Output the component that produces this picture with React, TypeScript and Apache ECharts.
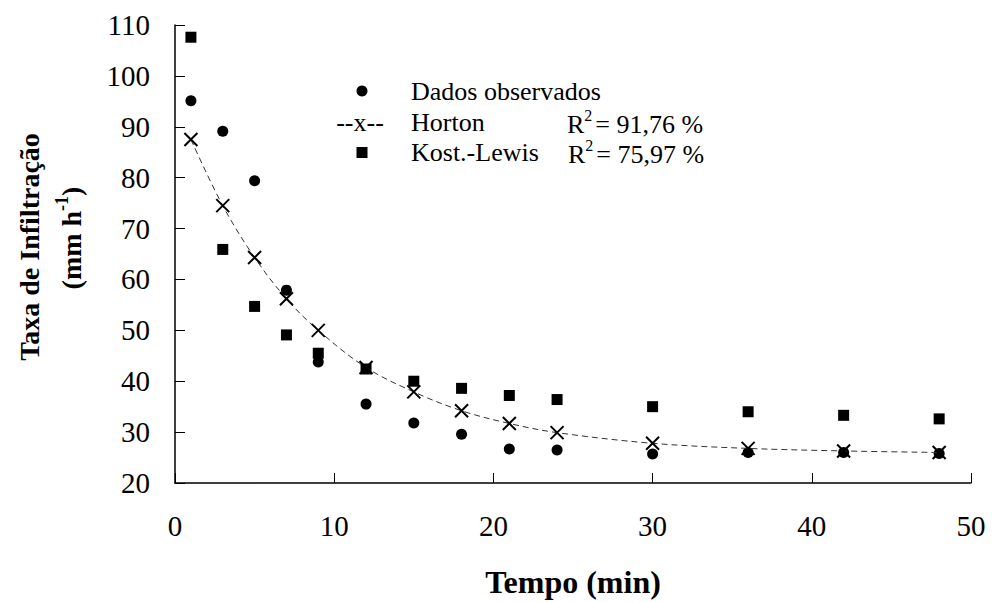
import React, { useEffect, useRef } from "react";
import * as echarts from "echarts";

const tempo = [1, 3, 5, 7, 9, 12, 15, 18, 21, 24, 30, 36, 42, 48];
const observados = [95.1, 89.1, 79.4, 57.9, 43.8, 35.5, 31.8, 29.6, 26.7, 26.5, 25.7, 26.0, 26.0, 25.8];
const horton = [87.5, 74.5, 64.3, 56.2, 50.0, 42.7, 37.9, 34.2, 31.7, 29.9, 27.8, 26.8, 26.3, 26.0];
const kostLewis = [107.6, 65.9, 54.7, 49.1, 45.5, 42.4, 40.0, 38.6, 37.2, 36.4, 35.0, 34.0, 33.3, 32.6];
const xTicks = { min: 0, max: 50, interval: 10 };
const yTicks = { min: 20, max: 110, interval: 10 };

const FONT = "Liberation Serif";
const XMARK = "path://M0,0L10,10M10,0L0,10";

function pairs(ys: number[]) {
  return tempo.map((t, i) => [t, ys[i]]);
}

export default function App() {
  const ref = useRef<HTMLDivElement>(null);
  useEffect(() => {
    if (!ref.current) return;
    const chart = echarts.init(ref.current, undefined, { renderer: "svg" });
    const legendText = (text: string, x: number, y: number) => ({
      type: "text",
      x,
      y,
      style: { text, fontFamily: FONT, fontSize: 26, fill: "#000", verticalAlign: "middle" },
    });
    const r2 = (val: string, x: number, y: number) => ({
      type: "text",
      x,
      y,
      style: {
        text: `{a|R}{s|2}{a|= ${val}}`,
        fill: "#000",
        verticalAlign: "middle",
        rich: {
          a: { fontFamily: FONT, fontSize: 26, lineHeight: 30, verticalAlign: "bottom", color: "#000" },
          s: { fontFamily: FONT, fontSize: 16, lineHeight: 30, verticalAlign: "top", color: "#000", padding: [0, 3, 0, 0] },
        },
      },
    });
    chart.setOption({
      animation: false,
      backgroundColor: "#fff",
      textStyle: { fontFamily: FONT },
      grid: { left: 175, right: 21, top: 25, bottom: 119 },
      xAxis: {
        type: "value",
        ...xTicks,
        axisLine: { lineStyle: { color: "#000", width: 1.5 } },
        axisTick: { inside: true, length: 10, lineStyle: { color: "#000", width: 1 } },
        axisLabel: { color: "#000", fontFamily: FONT, fontSize: 29, margin: 28 },
        splitLine: { show: false },
      },
      yAxis: {
        type: "value",
        ...yTicks,
        axisLine: { show: true, lineStyle: { color: "#000", width: 1.5 } },
        axisTick: { show: true, inside: true, length: 10, lineStyle: { color: "#000", width: 1 } },
        axisLabel: { color: "#000", fontFamily: FONT, fontSize: 29, margin: 25 },
        splitLine: { show: false },
      },
      series: [
        {
          name: "Horton",
          type: "line",
          data: pairs(horton),
          smooth: 0.35,
          symbol: XMARK,
          symbolSize: 13,
          lineStyle: { color: "#333", width: 1, type: [6, 4] },
          itemStyle: { color: "#000", borderColor: "#000", borderWidth: 2, opacity: 1 },
          z: 3,
        },
        {
          name: "Kost.-Lewis",
          type: "scatter",
          data: pairs(kostLewis),
          symbol: "rect",
          symbolSize: 11,
          itemStyle: { color: "#000", opacity: 1 },
          z: 2,
        },
        {
          name: "Dados observados",
          type: "scatter",
          data: pairs(observados),
          symbol: "circle",
          symbolSize: 11,
          itemStyle: { color: "#000", opacity: 1 },
          z: 2,
        },
      ],
      graphic: [
        {
          type: "text",
          x: 29,
          y: 247,
          rotation: Math.PI / 2,
          style: {
            text: "Taxa de Infiltração",
            fontFamily: FONT,
            fontSize: 28,
            fontWeight: "bold",
            fill: "#000",
            align: "center",
            verticalAlign: "middle",
          },
        },
        {
          type: "text",
          x: 69,
          y: 238,
          rotation: Math.PI / 2,
          style: {
            text: "{a|(mm h}{s|-1}{a|)}",
            fill: "#000",
            align: "center",
            verticalAlign: "middle",
            rich: {
              a: { fontFamily: FONT, fontSize: 28, fontWeight: "bold", lineHeight: 32, verticalAlign: "bottom", color: "#000" },
              s: { fontFamily: FONT, fontSize: 18, fontWeight: "bold", lineHeight: 32, verticalAlign: "top", color: "#000" },
            },
          },
        },
        {
          type: "text",
          x: 573,
          y: 582,
          style: {
            text: "Tempo (min)",
            fontFamily: FONT,
            fontSize: 32,
            fontWeight: "bold",
            fill: "#000",
            align: "center",
            verticalAlign: "middle",
          },
        },
        { type: "circle", shape: { cx: 362, cy: 91, r: 5.5 }, style: { fill: "#000" } },
        { type: "rect", shape: { x: 356.5, y: 147, width: 11, height: 11 }, style: { fill: "#000" } },
        {
          type: "text",
          x: 360,
          y: 122,
          style: { text: "--x--", fontFamily: FONT, fontSize: 26, fill: "#000", align: "center", verticalAlign: "middle" },
        },
        legendText("Dados observados", 411, 91),
        legendText("Horton", 411, 122),
        legendText("Kost.-Lewis", 411, 152),
        r2("91,76 %", 567, 122),
        r2("75,97 %", 568, 152),
      ],
    });
    return () => chart.dispose();
  }, []);
  return <div ref={ref} style={{ width: 992, height: 602, position: "fixed", left: 0, top: 0 }} />;
}
